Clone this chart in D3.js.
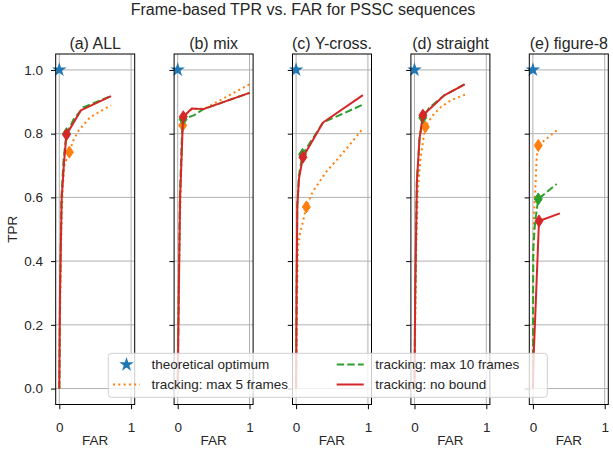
<!DOCTYPE html>
<html>
<head>
<meta charset="utf-8">
<script src="https://cdn.jsdelivr.net/npm/d3@7"></script>
<style>
  body { margin: 0; background: #fff; }
  svg text { font-family: "Liberation Sans", Arial, sans-serif; fill: #262626; }
</style>
</head>
<body>
<div id="chart"></div>
<script>
// panel titles and tick labels
const titles = ["(a) ALL", "(b) mix", "(c) Y-cross.", "(d) straight", "(e) figure-8"];
const yTicks = [0, 0.2, 0.4, 0.6, 0.8, 1.0];
const xTicks = [0, 1];
const optimum = [0, 1];

// [FAR, TPR] curves per panel
const max5 = [
  [[0,0],[0.01,0.2],[0.02,0.4],[0.034,0.54],[0.05,0.64],[0.07,0.70],[0.14,0.742],[0.196,0.779],[0.27,0.81],[0.43,0.852],[0.72,0.889]],
  [[0,0],[0.005,0.2],[0.02,0.4],[0.04,0.6],[0.06,0.78],[0.07,0.826],[0.1,0.858],[0.2,0.877],[0.38,0.879],[1.0,0.955]],
  [[0,0],[0.01,0.2],[0.02,0.38],[0.025,0.437],[0.04,0.468],[0.063,0.495],[0.087,0.516],[0.143,0.57],[0.227,0.616],[0.415,0.679],[0.58,0.721],[0.74,0.763],[0.94,0.819]],
  [[0,0],[0.01,0.2],[0.025,0.45],[0.047,0.626],[0.084,0.721],[0.117,0.774],[0.15,0.821],[0.256,0.858],[0.37,0.884],[0.51,0.905],[0.71,0.923]],
  [[0,0],[0,0.33],[0.015,0.542],[0.038,0.647],[0.052,0.721],[0.075,0.763],[0.33,0.81]]
];
const max10 = [
  [[0,0],[0.01,0.3],[0.03,0.6],[0.06,0.72],[0.1,0.80],[0.2,0.845],[0.33,0.882],[0.72,0.918]],
  [[0,0],[0.01,0.2],[0.03,0.6],[0.06,0.8],[0.075,0.845],[0.23,0.858],[0.358,0.877],[1.0,0.928]],
  [[0,0],[0.007,0.3],[0.017,0.573],[0.04,0.67],[0.09,0.735],[0.375,0.835],[0.93,0.891]],
  [[0,0],[0.01,0.3],[0.033,0.647],[0.07,0.784],[0.115,0.85],[0.2,0.88],[0.42,0.921],[0.70,0.955]],
  [[0,0],[0.005,0.437],[0.03,0.521],[0.075,0.595],[0.33,0.642]]
];
const noBound = [
  [[0,0],[0.01,0.3],[0.033,0.595],[0.066,0.71],[0.1,0.797],[0.3,0.873],[0.72,0.918]],
  [[0,0],[0.01,0.2],[0.033,0.595],[0.07,0.826],[0.078,0.853],[0.196,0.879],[0.358,0.877],[1.0,0.928]],
  [[0,0],[0.007,0.3],[0.017,0.573],[0.04,0.658],[0.095,0.726],[0.375,0.835],[0.93,0.921]],
  [[0,0],[0.01,0.3],[0.033,0.647],[0.07,0.784],[0.117,0.858],[0.42,0.921],[0.70,0.955]],
  [[0,0],[0.01,0.1],[0.014,0.12],[0.085,0.526],[0.376,0.55]]
];

// operating points (diamonds)
const max5Op = [[0.14,0.742],[0.07,0.826],[0.143,0.57],[0.15,0.821],[0.075,0.763]];
const max10Op = [[0.1,0.80],[0.075,0.845],[0.09,0.735],[0.115,0.85],[0.075,0.595]];
const noBoundOp = [[0.1,0.797],[0.078,0.853],[0.095,0.726],[0.117,0.858],[0.085,0.526]];

const seriesNames = ["theoretical optimum", "tracking: max 5 frames", "tracking: max 10 frames", "tracking: no bound"];

const width = 613, height = 449;
const panelLeft = 55.7, panelStep = 118.4, panelW = 79;
const plotTop = 54, plotBottom = 404.5;

const series = [
  { data: max5, op: max5Op, color: "#ff7f0e", dash: "2,3.3" },
  { data: max10, op: max10Op, color: "#2ca02c", dash: "7.4,3.2" },
  { data: noBound, op: noBoundOp, color: "#d62728", dash: null }
];

const svg = d3.select("#chart").append("svg")
  .attr("width", width)
  .attr("height", height);

svg.append("text")
  .attr("x", 303)
  .attr("y", 15)
  .attr("text-anchor", "middle")
  .attr("font-size", "16px")
  .text("Frame-based TPR vs. FAR for PSSC sequences");

const y = d3.scaleLinear().domain([-0.05, 1.05]).range([plotBottom, plotTop]);
const diamond = "M0,-6L4,0L0,6L-4,0Z";
const star = d3.symbol().type(d3.symbolStar).size(65);

titles.forEach((title, i) => {
  const left = panelLeft + i * panelStep;
  const x = d3.scaleLinear().domain([-0.05, 1.05]).range([left, left + panelW]);
  const g = svg.append("g");

  // grid
  g.selectAll(".hgrid").data(yTicks).enter().append("line")
    .attr("x1", left).attr("x2", left + panelW)
    .attr("y1", (d) => y(d)).attr("y2", (d) => y(d))
    .attr("stroke", "#b0b0b0").attr("stroke-width", 1);
  g.selectAll(".vgrid").data(xTicks).enter().append("line")
    .attr("x1", (d) => x(d)).attr("x2", (d) => x(d))
    .attr("y1", plotTop).attr("y2", plotBottom)
    .attr("stroke", "#b0b0b0").attr("stroke-width", 1);

  // theoretical optimum
  g.append("path")
    .attr("d", star)
    .attr("transform", `translate(${x(optimum[0])},${y(optimum[1])})`)
    .attr("fill", "#1f77b4");

  const line = d3.line().x((d) => x(d[0])).y((d) => y(d[1]));
  series.forEach((s) => {
    g.append("path")
      .attr("d", line(s.data[i]))
      .attr("fill", "none")
      .attr("stroke", s.color)
      .attr("stroke-width", 2)
      .attr("stroke-dasharray", s.dash)
      .attr("stroke-linejoin", "round");
    g.append("path")
      .attr("d", diamond)
      .attr("transform", `translate(${x(s.op[i][0])},${y(s.op[i][1])})`)
      .attr("fill", s.color)
      .attr("stroke", s.color)
      .attr("stroke-width", 1);
  });

  // spines
  g.append("rect")
    .attr("x", left).attr("y", plotTop)
    .attr("width", panelW).attr("height", plotBottom - plotTop)
    .attr("fill", "none").attr("stroke", "#000").attr("stroke-width", 1);

  // axes
  const yAxis = d3.axisLeft(y).tickValues(yTicks).tickSize(4.7).tickSizeOuter(0).tickPadding(8)
    .tickFormat(i === 0 ? d3.format(".1f") : () => "");
  const ya = g.append("g").attr("transform", `translate(${left},0)`).call(yAxis);
  ya.select(".domain").remove();
  ya.selectAll("text").attr("font-size", "13.5px").style("fill", "#262626");

  const xAxis = d3.axisBottom(x).tickValues(xTicks).tickSize(4.7).tickSizeOuter(0).tickPadding(13)
    .tickFormat(d3.format("d"));
  const xa = g.append("g").attr("transform", `translate(0,${plotBottom})`).call(xAxis);
  xa.select(".domain").remove();
  xa.selectAll("text").attr("font-size", "13.5px").style("fill", "#262626");

  g.append("text")
    .attr("x", left + panelW / 2)
    .attr("y", 48.7)
    .attr("text-anchor", "middle")
    .attr("font-size", "16px")
    .text(title);

  g.append("text")
    .attr("x", left + panelW / 2)
    .attr("y", 445)
    .attr("text-anchor", "middle")
    .attr("font-size", "13.5px")
    .text("FAR");
});

svg.append("text")
  .attr("transform", `translate(17,${(plotTop + plotBottom) / 2}) rotate(-90)`)
  .attr("text-anchor", "middle")
  .attr("font-size", "13.5px")
  .text("TPR");

// legend
const legend = svg.append("g");
legend.append("rect")
  .attr("x", 108.3).attr("y", 353.3)
  .attr("width", 439).attr("height", 44)
  .attr("rx", 3)
  .attr("fill", "#fff").attr("fill-opacity", 0.8)
  .attr("stroke", "#d0d0d0").attr("stroke-width", 1);

const legendItems = [
  { name: seriesNames[0], col: 0, row: 0, color: "#1f77b4", marker: true },
  { name: seriesNames[1], col: 0, row: 1, color: "#ff7f0e", dash: "2,3.3" },
  { name: seriesNames[2], col: 1, row: 0, color: "#2ca02c", dash: "7.4,3.2" },
  { name: seriesNames[3], col: 1, row: 1, color: "#d62728", dash: null }
];
const colX = [113, 336.7];
const rowY = [364.5, 384.5];

legendItems.forEach((d) => {
  const hx = colX[d.col], hy = rowY[d.row];
  if (d.marker) {
    legend.append("path")
      .attr("d", star)
      .attr("transform", `translate(${hx + 13.5},${hy})`)
      .attr("fill", d.color);
  } else {
    legend.append("line")
      .attr("x1", hx).attr("x2", hx + 27)
      .attr("y1", hy).attr("y2", hy)
      .attr("stroke", d.color).attr("stroke-width", 2)
      .attr("stroke-dasharray", d.dash);
  }
  legend.append("text")
    .attr("x", hx + 38.5)
    .attr("y", hy + 4.7)
    .attr("font-size", "13.5px")
    .text(d.name);
});
</script>
</body>
</html>
